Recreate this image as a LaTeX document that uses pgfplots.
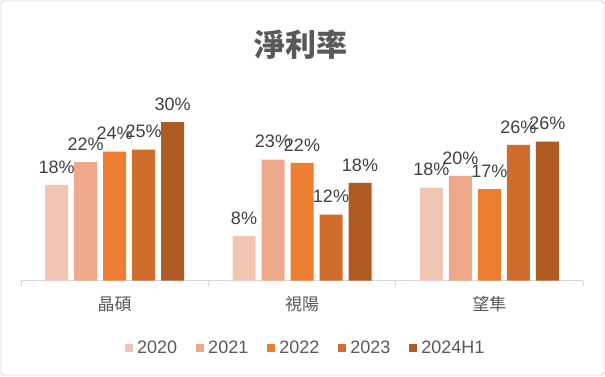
\documentclass[border=0pt]{standalone}
\usepackage{fontspec}
\setmainfont{Liberation Sans}
\newfontfamily\cjk{Noto Sans CJK TC}
\usepackage{pgfplots}
\pgfplotsset{compat=1.18}
\definecolor{c20}{HTML}{F1C5B3}
\definecolor{c21}{HTML}{EFA889}
\definecolor{c22}{HTML}{ED7D31}
\definecolor{c23}{HTML}{D06D2D}
\definecolor{c24}{HTML}{AE5A21}
\definecolor{lbl}{HTML}{404040}
\definecolor{txt}{HTML}{595959}
\definecolor{axl}{HTML}{D9D9D9}
\begin{document}
\begin{tikzpicture}[x=1pt,y=1pt]
\path[use as bounding box] (0,0) rectangle (605,376);
\draw[axl, line width=0.8pt, rounded corners=3pt] (1,1) rectangle (604,375);
\node[font=\cjk\bfseries\fontsize{31}{31}\selectfont, text=txt] at (301,331) {淨利率};
\begin{axis}[
  at={(21pt,95.5pt)}, anchor=south west,
  scale only axis, width=562pt, height=184.8pt,
  xmin=-0.5, xmax=2.5, ymin=0, ymax=35,
  enlargelimits=false, clip=false,
  hide y axis,
  axis x line*=bottom,
  x axis line style={draw=axl, line width=0.8pt},
  xtick={0,1,2},
  xticklabels={{\cjk 晶碩},{\cjk 視陽},{\cjk 望隼}},
  major tick length=0pt,
  minor xtick={-0.5,0.5,1.5,2.5},
  minor tick length=5pt,
  tick align=outside,
  minor tick style={draw=axl, line width=0.8pt},
  xticklabel style={font=\fontsize{17}{17}\selectfont, text=txt, anchor=base, yshift=-30pt},
  ybar=6pt, bar width=23pt,
  nodes near coords={\pgfplotspointmeta\%},
  every node near coord/.append style={font=\fontsize{18}{18}\selectfont, text=lbl, anchor=base, yshift=11.7pt, inner sep=0pt},
  legend columns=5,
  legend style={at={(0.505,-0.365)}, anchor=center, draw=none, fill=none,
    font=\fontsize{18}{18}\selectfont, text=txt,
    nodes={inner sep=0pt},
    /tikz/every odd column/.append style={column sep=4pt},
    /tikz/every even column/.append style={column sep=19pt}},
  legend image code/.code={\fill[#1] (0pt,-4pt) rectangle (8pt,4pt);},
]
\addplot[fill=c20, draw=none, point meta=explicit symbolic] table[meta=l] {
x y l
0 18.1 18
1 8.4 8
2 17.6 18
};
\addplot[fill=c21, draw=none, point meta=explicit symbolic] table[meta=l] {
x y l
0 22.4 22
1 22.9 23
2 19.8 20
};
\addplot[fill=c22, draw=none, point meta=explicit symbolic] table[meta=l] {
x y l
0 24.4 24
1 22.3 22
2 17.3 17
};
\addplot[fill=c23, draw=none, point meta=explicit symbolic] table[meta=l] {
x y l
0 24.8 25
1 12.5 12
2 25.7 26
};
\addplot[fill=c24, draw=none, point meta=explicit symbolic] table[meta=l] {
x y l
0 30.0 30
1 18.5 18
2 26.3 26
};
\legend{2020,2021,2022,2023,2024H1}
\end{axis}
\end{tikzpicture}
\end{document}
